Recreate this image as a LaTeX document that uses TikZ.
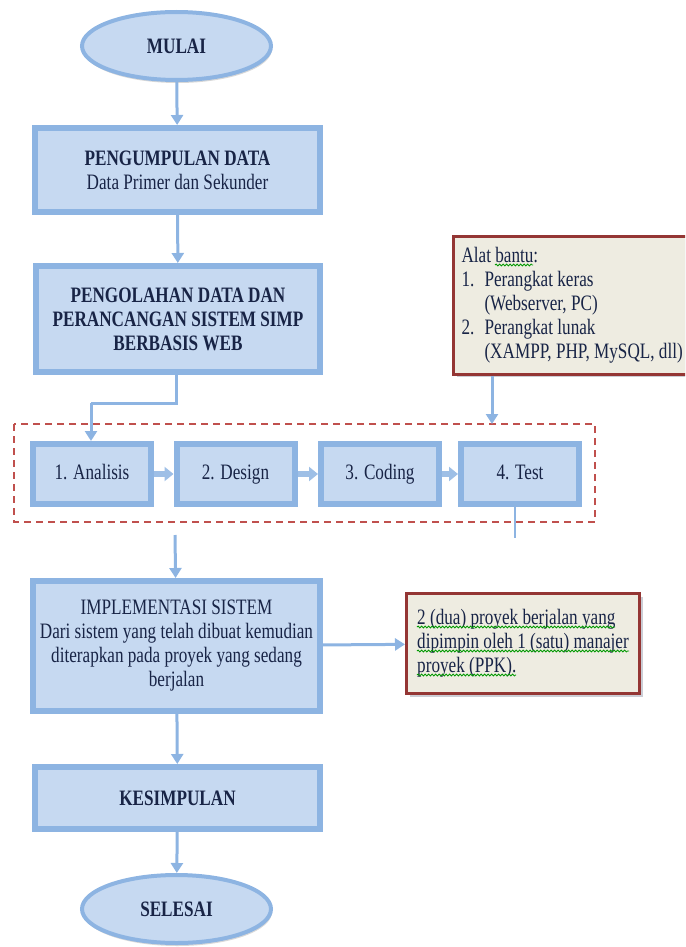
\documentclass[tikz,border=0pt]{standalone}
\usepackage{fontspec}
\setmainfont{Liberation Serif}[FakeStretch=0.78]
\usetikzlibrary{arrows.meta,shapes.geometric,shadows,decorations.pathmorphing}
\definecolor{garisbiru}{RGB}{141,180,226}
\definecolor{isibiru}{RGB}{198,217,241}
\definecolor{teks}{RGB}{24,36,70}
\definecolor{merahtua}{RGB}{148,54,52}
\definecolor{merahputus}{RGB}{192,80,77}
\definecolor{krem}{RGB}{238,236,225}
\tikzset{
  huruf/.style={font=\fontsize{22}{24}\selectfont, text=teks},
  kotak/.style={huruf, rectangle, draw=garisbiru, fill=isibiru, line width=6pt, align=center,
    drop shadow={shadow xshift=1pt, shadow yshift=-2pt, fill=black!20}},
  tahap/.style={kotak, minimum width=118pt, minimum height=60pt, text height=15pt, text depth=5pt},
  oval/.style={huruf, ellipse, draw=garisbiru, fill=isibiru, line width=4pt,
    minimum width=189pt, minimum height=68pt,
    drop shadow={shadow xshift=1pt, shadow yshift=-3pt, fill=black!30}},
  catatan/.style={huruf, rectangle, draw=merahtua, fill=krem, line width=3pt, align=flush left,
    drop shadow={shadow xshift=3pt, shadow yshift=-3pt, fill=teks!45}},
  panah/.style={draw=garisbiru, line width=3pt, -{Triangle[width=12pt,length=10pt]}},
  panahkecil/.style={draw=garisbiru!85, line width=6pt, -{Triangle[width=14pt,length=9pt]}},
  garis/.style={draw=garisbiru, line width=3pt},
  salaheja/.style={draw=green!60!black, line width=0.8pt, decorate,
    decoration={snake, amplitude=1pt, segment length=3.5pt}}
}
\begin{document}
\begin{tikzpicture}[x=1pt,y=-1pt]
  \useasboundingbox (0,0) rectangle (685,947);
  \clip (0,0) rectangle (685,947);

  % alur utama
  \node[oval] (mulai) at (176.5,46) {\textbf{MULAI}};
  \node[kotak, minimum width=285pt, minimum height=84pt] (kumpul) at (177.5,170)
    {\textbf{PENGUMPULAN DATA}\\Data Primer dan Sekunder};
  \node[kotak, minimum width=284pt, minimum height=106pt] (olah) at (178,319)
    {\textbf{PENGOLAHAN DATA DAN}\\\textbf{PERANCANGAN SISTEM SIMP}\\\textbf{BERBASIS WEB}};

  % tahapan
  \draw[merahputus, dashed, line width=1.5pt, dash pattern=on 7pt off 5pt] (14,424) rectangle (595,522);
  \node[tahap] (analisis) at (92,474) {1. Analisis};
  \node[tahap] (design) at (235.5,474) {2. Design};
  \node[tahap] (coding) at (380,474) {3. Coding};
  \node[tahap] (test) at (520,474) {4. Test};

  \node[catatan, anchor=west, text width=284pt, minimum height=138pt, inner sep=8pt] (alat) at (452,305)
    {Alat bantu:\\
     \makebox[23pt][l]{1.}Perangkat keras\\
     \hspace*{23pt}(Webserver, PC)\\
     \makebox[23pt][l]{2.}Perangkat lunak\\
     \hspace*{23pt}(XAMPP, PHP, MySQL, dll)};

  \node[kotak, minimum width=287pt, minimum height=130pt] (implementasi) at (176.5,646)
    {IMPLEMENTASI SISTEM\\Dari sistem yang telah dibuat kemudian\\diterapkan pada proyek yang sedang\\berjalan};
  \node[catatan, minimum width=233pt, minimum height=100pt] (proyek) at (523,643.5)
    {2 (dua) proyek berjalan yang\\dipimpin oleh 1 (satu) manajer\\proyek (PPK).};

  \node[kotak, minimum width=285pt, minimum height=62pt] (simpul) at (177.5,798) {\textbf{KESIMPULAN}};
  \node[oval] (selesai) at (176.5,909) {\textbf{SELESAI}};

  % penghubung
  \coordinate (belok1) at (176,403);
  \coordinate (belok2) at (91,403);
  \coordinate (masuk) at (175,535);
  \coordinate (ujungtest) at (515,538);
  \coordinate (bataspanah) at (492,424);

  \draw[panah] (mulai) -- (kumpul);
  \draw[panah] (kumpul) -- (olah);
  \draw[garis] (olah.south -| belok1) -- (belok1) -- (belok2);
  \draw[panah] (belok2) -- (belok2 |- analisis.north);
  \draw[panahkecil] (analisis) -- (design);
  \draw[panahkecil] (design) -- (coding);
  \draw[panahkecil] (coding) -- (test);
  \draw[panah] (alat.south -| bataspanah) -- (bataspanah);
  \draw[garis, line width=2pt] (test.south -| ujungtest) -- (ujungtest);
  \draw[panah] (masuk) -- (implementasi);
  \draw[panah] (implementasi) -- (proyek);
  \draw[panah] (implementasi) -- (simpul);
  \draw[panah] (simpul) -- (selesai);

  % garis ejaan
  \draw[salaheja] (495,265) -- (533,265);
  \draw[salaheja] (417,627) -- (615,627);
  \draw[salaheja] (417,651) -- (629,651);
  \draw[salaheja] (417,675) -- (516,675);
\end{tikzpicture}
\end{document}
